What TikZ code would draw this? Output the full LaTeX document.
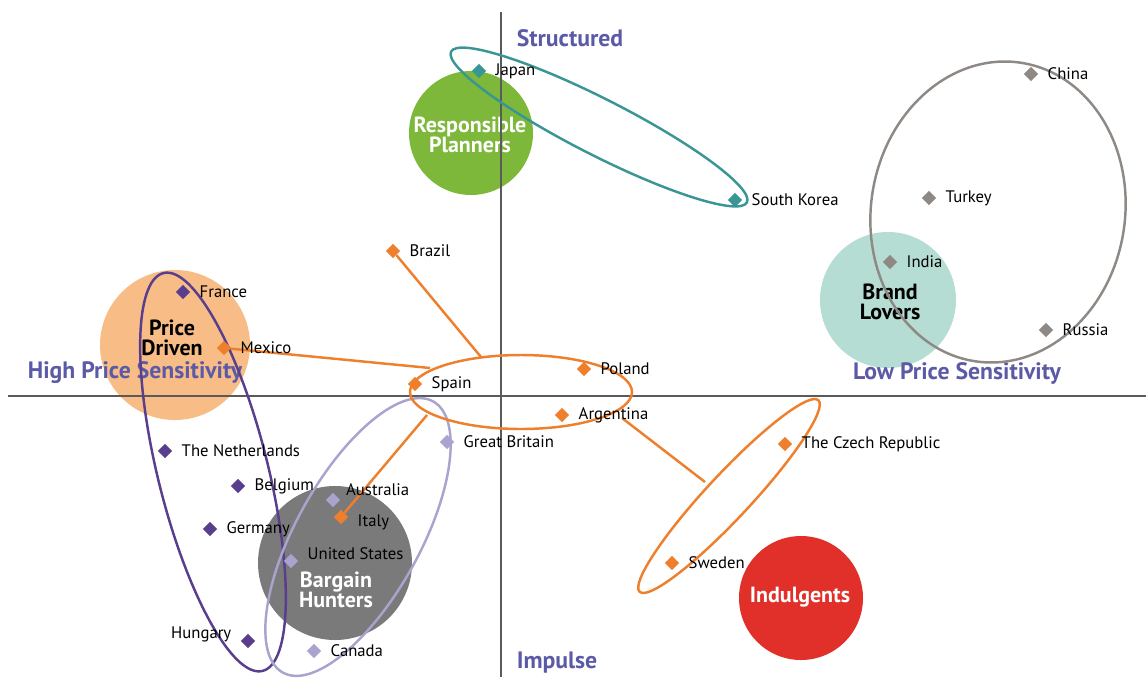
\documentclass[tikz,border=0pt]{standalone}
\usepackage{fontspec}
\setmainfont{PT Sans}
\usepackage{tikz}
\usetikzlibrary{shapes.geometric, positioning}

\definecolor{axisblue}{HTML}{5B5AA6}
\definecolor{axisgray}{HTML}{5A5A5A}
\definecolor{tealc}{HTML}{3A9694}
\definecolor{grayc}{HTML}{8E8985}
\definecolor{orangec}{HTML}{EE7F2D}
\definecolor{darkpurple}{HTML}{5A3E8E}
\definecolor{lightpurple}{HTML}{A8A4CE}
\definecolor{greenc}{HTML}{7DB83A}
\definecolor{peach}{HTML}{F8BC86}
\definecolor{grayd}{HTML}{7A7A7A}
\definecolor{mint}{HTML}{B6DDD3}
\definecolor{redc}{HTML}{E1302A}

\tikzset{
  mk/.style={diamond, fill=#1, minimum size=0.29cm, inner sep=0pt},
  cty/.style={inner sep=0pt, font=\fontsize{9.5}{10}\selectfont},
  seg/.style={circle, inner sep=0pt, text width=2.6cm, align=center, font=\bfseries\fontsize{12.5}{11.5}\selectfont},
  axl/.style={text=axisblue, font=\bfseries\fontsize{13.5}{14}\selectfont},
  ring/.style={draw=#1, line width=1.4pt}
}

\begin{document}
\begin{tikzpicture}[x=0.02cm, y=0.02cm]
\useasboundingbox (0,0) rectangle (1146,-677);
% segment circles
\fill[greenc] (471,-133) circle [radius=62];
\fill[peach] (175,-345) circle [radius=75];
\fill[grayd] (335,-563) circle [radius=77];
\fill[mint] (888,-300) circle [radius=68];
\fill[redc] (801,-598) circle [radius=62];
\node[seg, text=white](planners) at (470,-135){Responsible\\Planners};
\node[seg](pricedriven) at (172,-338){Price\\Driven};
\node[seg, text=white](bargain) at (336,-590){Bargain\\Hunters};
\node[seg](brand) at (890,-302){Brand\\Lovers};
\node[seg, text=white](indulgents) at (800,-597){Indulgents};
% axes
\draw[axisgray, line width=1.1pt] (8,-396) -- (1146,-396);
\draw[axisgray, line width=1.1pt] (501,-12) -- (501,-677);
\node[axl](structured) at (570,-38){Structured};
\node[axl](impulse) at (557,-663){Impulse};
\node[axl](highprice) at (135,-373){High Price Sensitivity};
\node[axl](lowprice) at (957,-373){Low Price Sensitivity};
% groups
\draw[ring=tealc, shift={(599,-127)}, rotate=-27] (0,0) ellipse [x radius=166, y radius=28];
\draw[ring=grayc, shift={(998,-212)}, rotate=81] (0,0) ellipse [x radius=151, y radius=127];
\draw[ring=darkpurple, shift={(213,-472)}, rotate=-76] (0,0) ellipse [x radius=205, y radius=55];
\draw[ring=lightpurple, shift={(358,-537)}, rotate=61] (0,0) ellipse [x radius=155, y radius=62];
\draw[ring=orangec] (521,-392) ellipse [x radius=111, y radius=37];
\draw[ring=orangec, shift={(729,-496)}, rotate=47] (0,0) ellipse [x radius=131, y radius=22];
% countries
\node[mk=tealc](japan) at (479,-71){};
\node[mk=tealc](skorea) at (735,-200){};
\node[mk=grayc](china) at (1031,-74){};
\node[mk=grayc](turkey) at (929,-198){};
\node[mk=grayc](india) at (890,-262){};
\node[mk=grayc](russia) at (1046,-330){};
\node[mk=orangec](brazil) at (393,-251){};
\node[mk=darkpurple](france) at (183,-292){};
\node[mk=orangec](mexico) at (224,-348){};
\node[mk=orangec](spain) at (415,-384){};
\node[mk=orangec](poland) at (584,-369){};
\node[mk=orangec](argentina) at (562,-415){};
\node[mk=lightpurple](gbritain) at (447,-442){};
\node[mk=orangec](czech) at (785,-444){};
\node[mk=darkpurple](netherlands) at (165,-451){};
\node[mk=darkpurple](belgium) at (238,-486){};
\node[mk=lightpurple](australia) at (333,-500){};
\node[mk=orangec](italy) at (341,-517){};
\node[mk=darkpurple](germany) at (210,-529){};
\node[mk=lightpurple](usa) at (291,-561){};
\node[mk=orangec](sweden) at (672,-563){};
\node[mk=darkpurple](hungary) at (248,-641){};
\node[mk=lightpurple](canada) at (314,-651){};
% links to the central group
\coordinate (ctop) at (481,-357);
\coordinate (cleft) at (430,-368);
\coordinate (cbottom) at (427,-415);
\coordinate (cright) at (622,-418);
\coordinate (swring) at (705,-482);
\draw[orangec, line width=1.4pt] (brazil) -- (ctop);
\draw[orangec, line width=1.4pt] (mexico) -- (cleft);
\draw[orangec, line width=1.4pt] (italy) -- (cbottom);
\draw[orangec, line width=1.4pt] (cright) -- (swring);
% country names
\node[cty, right=5pt of japan](japanT){Japan};
\node[cty, right=5pt of skorea](skoreaT){South Korea};
\node[cty, right=5pt of china](chinaT){China};
\node[cty, right=5pt of turkey](turkeyT){Turkey};
\node[cty, right=5pt of india](indiaT){India};
\node[cty, right=5pt of russia](russiaT){Russia};
\node[cty, right=5pt of brazil](brazilT){Brazil};
\node[cty, right=5pt of france](franceT){France};
\node[cty, right=5pt of mexico](mexicoT){Mexico};
\node[cty, right=5pt of spain](spainT){Spain};
\node[cty, right=5pt of poland](polandT){Poland};
\node[cty, right=5pt of argentina](argentinaT){Argentina};
\node[cty, right=5pt of gbritain](gbritainT){Great Britain};
\node[cty, right=5pt of czech](czechT){The Czech Republic};
\node[cty, right=5pt of netherlands](netherlandsT){The Netherlands};
\node[cty, right=5pt of belgium](belgiumT){Belgium};
\node[cty, right=3pt of australia, yshift=6pt](australiaT){Australia};
\node[cty, right=5pt of italy, yshift=-3pt](italyT){Italy};
\node[cty, right=5pt of germany](germanyT){Germany};
\node[cty, right=5pt of usa, yshift=4pt](usaT){United States};
\node[cty, right=5pt of sweden](swedenT){Sweden};
\node[cty, left=5pt of hungary, yshift=4pt](hungaryT){Hungary};
\node[cty, right=5pt of canada](canadaT){Canada};
\end{tikzpicture}
\end{document}
